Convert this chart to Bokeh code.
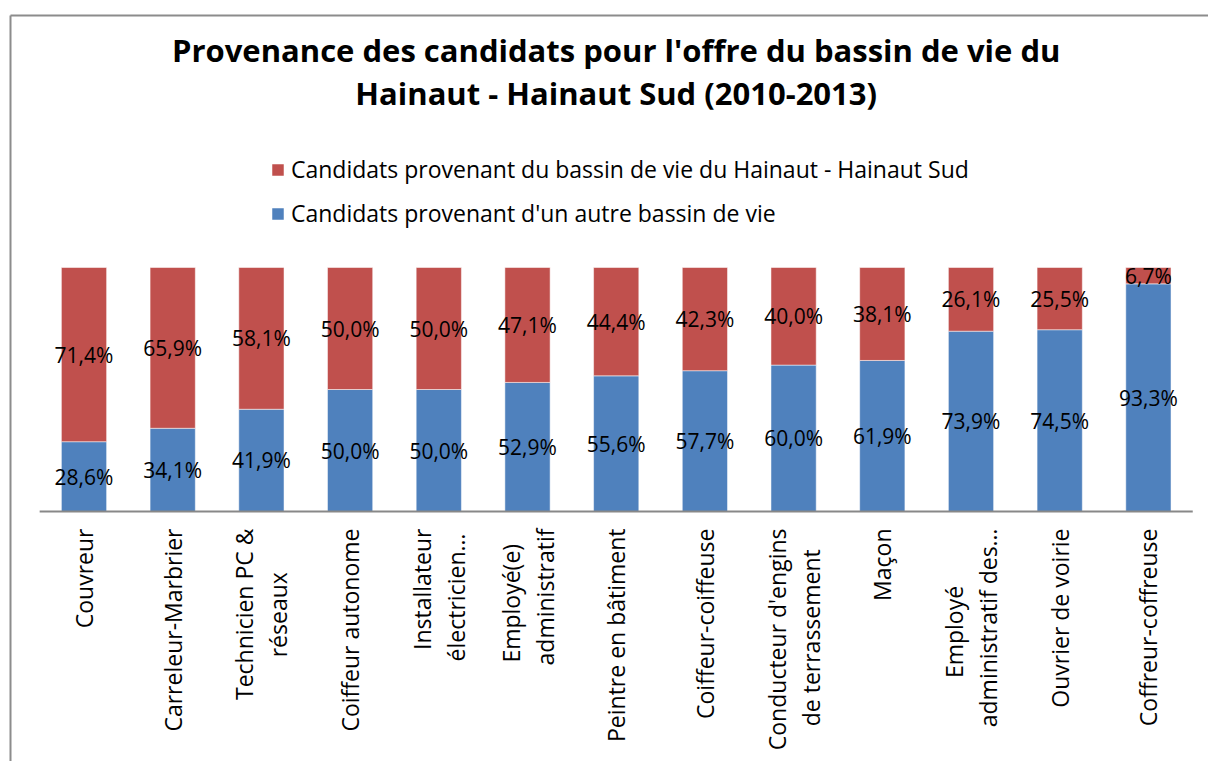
import math
from bokeh.plotting import figure
from bokeh.models import Legend, LegendItem, ColumnDataSource, Range1d, Label
from bokeh.embed import file_html
from bokeh.resources import INLINE
from bokeh.core.properties import value, field

categories = ["Couvreur", "Carreleur-Marbrier", "Technicien PC &\nréseaux", "Coiffeur autonome",
              "Installateur\nélectricien…", "Employé(e)\nadministratif", "Peintre en bâtiment",
              "Coiffeur-coiffeuse", "Conducteur d'engins\nde terrassement", "Maçon",
              "Employé\nadministratif des…", "Ouvrier de voirie", "Coffreur-coffreuse"]
autre = [28.6, 34.1, 41.9, 50.0, 50.0, 52.9, 55.6, 57.7, 60.0, 61.9, 73.9, 74.5, 93.3]
hainaut = [71.4, 65.9, 58.1, 50.0, 50.0, 47.1, 44.4, 42.3, 40.0, 38.1, 26.1, 25.5, 6.7]
series_names = ["Candidats provenant d'un autre bassin de vie",
                "Candidats provenant du bassin de vie du Hainaut - Hainaut Sud"]
title_lines = ["Provenance des candidats pour l'offre du bassin de vie du",
               "Hainaut - Hainaut Sud (2010-2013)"]

BLUE = "#4F81BD"
RED = "#C0504D"
FONT = "Open Sans"

# ---- layout (canvas pixels) ----
W, H = 1208, 761
PX_X = 88.7            # pixels per category slot
FIRST_CX = 83.5        # pixel centre of the first column
BASE_PY = 511          # pixel row of the 0 % baseline (from top)
PX_Y = 2.44            # pixels per percent
X0 = -FIRST_CX / PX_X
X1 = X0 + W / PX_X
Y1 = BASE_PY / PX_Y
Y0 = -(H - BASE_PY) / PX_Y
LABEL_FS = 23
LINE_GAP = 34
STANDOFF = 17


def fmt(v):
    return f"{v:.1f}%".replace(".", ",")


def y_at(py):
    return (BASE_PY - py) / PX_Y


def x_at(px):
    return X0 + px / PX_X


n = len(categories)
idx = list(range(n))

p = figure(width=W, height=H, x_range=Range1d(X0, X1), y_range=Range1d(Y0, Y1),
           output_backend="svg", toolbar_location=None, title=None,
           x_axis_location=None, y_axis_location=None,
           min_border_left=0, min_border_right=0, min_border_top=0, min_border_bottom=0)
p.xgrid.visible = False
p.ygrid.visible = False
p.outline_line_color = None
p.background_fill_color = "white"
p.border_fill_color = "white"

# chart-area border (left and top edges; the others lie outside the picture)
bx, by = x_at(10), y_at(15)
p.segment(x0=[bx, bx], y0=[by, by], x1=[X1 + 1, bx], y1=[by, Y0 - 1],
          line_color="#8C8C8C", line_width=2)

src = ColumnDataSource(dict(x=idx, autre=autre, hainaut=hainaut))
rs = p.vbar_stack(["autre", "hainaut"], x="x", width=0.51, color=[BLUE, RED],
                  line_color="white", line_alpha=0.5, line_width=1, source=src)

# baseline (category axis line)
p.segment(x0=[-0.5], y0=[0], x1=[n - 0.5], y1=[0], line_color="#888888", line_width=2)

# value labels
lbl_src = ColumnDataSource(dict(
    x=idx + idx,
    y=[a / 2 for a in autre] + [a + h / 2 for a, h in zip(autre, hainaut)],
    t=[fmt(a) for a in autre] + [fmt(h) for h in hainaut],
))
p.text(x="x", y="y", text="t", source=lbl_src, text_align="center", text_baseline="middle",
       text_font=value(FONT), text_font_size="21px", text_color="black")

# category labels (rotated, lines centred on each other)
cx, ct, cxo, cyo, cal = [], [], [], [], []
for i, cat in enumerate(categories):
    lines = cat.split("\n")
    longest = max(lines, key=len)
    est = len(longest) * 0.5 * LABEL_FS
    for k, ln in enumerate(lines):
        cx.append(i)
        ct.append(ln)
        cxo.append((k - (len(lines) - 1) / 2) * LINE_GAP)
        if ln == longest:
            cyo.append(STANDOFF)
            cal.append("right")
        else:
            cyo.append(STANDOFF + est / 2)
            cal.append("center")
cat_src = ColumnDataSource(dict(x=cx, y=[0] * len(cx), t=ct, xo=cxo, yo=cyo, al=cal))
p.text(x="x", y="y", text="t", source=cat_src, angle=math.pi / 2,
       x_offset="xo", y_offset="yo", text_align=field("al"), text_baseline="middle",
       text_font=value(FONT), text_font_size=f"{LABEL_FS}px", text_color="black")

# legend
legend = Legend(items=[LegendItem(label=series_names[1], renderers=[rs[1]]),
                       LegendItem(label=series_names[0], renderers=[rs[0]])],
                orientation="vertical", location=(270, 532),
                label_text_font=FONT, label_text_font_size="23px", label_text_color="black",
                glyph_width=15, glyph_height=15, label_height=24, spacing=12,
                border_line_color=None, background_fill_alpha=0, padding=0, margin=0,
                label_standoff=6)
p.add_layout(legend, "center")

# title
for txt, py in zip(title_lines, [49, 92]):
    p.add_layout(Label(x=(n - 1) / 2, y=y_at(py), text=txt, text_align="center",
                       text_baseline="middle", text_font=FONT, text_font_size="31px",
                       text_font_style="bold", text_color="black"))

open("out.html", "w").write(file_html(p, INLINE))
